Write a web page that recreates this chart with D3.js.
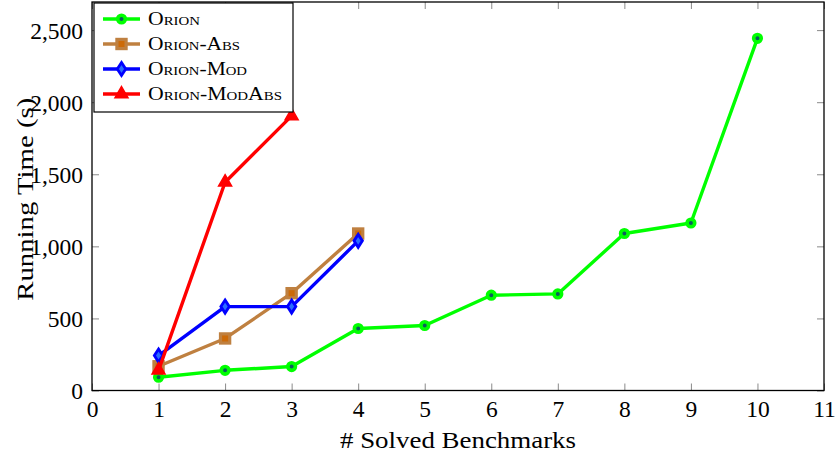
<!DOCTYPE html>
<html>
<head>
<meta charset="utf-8">
<script src="https://cdn.jsdelivr.net/npm/d3@7"></script>
<style>
  html, body { margin: 0; padding: 0; background: #fff; }
  svg { display: block; }
  text { font-family: "Liberation Serif", "Times New Roman", serif; fill: #000; }
</style>
</head>
<body>
<svg id="chart" width="838" height="458"></svg>
<script>
// Running time per number of solved benchmarks, one series per tool variant
const orionSolved = [1, 2, 3, 4, 5, 6, 7, 8, 9, 10];
const orionTime = [92, 140, 166, 430, 451, 661, 670, 1089, 1162, 2443];

const orionAbsSolved = [1, 2, 3, 4];
const orionAbsTime = [168, 361, 675, 1089];

const orionModSolved = [1, 2, 3, 4];
const orionModTime = [242, 582, 582, 1038];

const orionModAbsSolved = [1, 2, 3];
const orionModAbsTime = [140, 1445, 1905];

const xTicks = [0, 1, 2, 3, 4, 5, 6, 7, 8, 9, 10, 11];
const yTicks = [0, 500, 1000, 1500, 2000, 2500];

const seriesNames = ["Orion", "Orion-Abs", "Orion-Mod", "Orion-ModAbs"];

const series = [
  { name: seriesNames[0], xs: orionSolved, ys: orionTime, color: "#00ff00", mark: "circle", w: 52 },
  { name: seriesNames[1], xs: orionAbsSolved, ys: orionAbsTime, color: "#bf8040", mark: "square", w: 92 },
  { name: seriesNames[2], xs: orionModSolved, ys: orionModTime, color: "#0000ff", mark: "diamond", w: 99 },
  { name: seriesNames[3], xs: orionModAbsSolved, ys: orionModAbsTime, color: "#ff0000", mark: "triangle", w: 134 }
];

const svg = d3.select("#chart");
const plot = { left: 92, right: 824, top: 2, bottom: 390.5 };

const x = d3.scaleLinear().domain([0, 11]).range([plot.left, plot.right]);
const y = d3.scaleLinear().domain([0, 2695]).range([plot.bottom, plot.top]);

const tickLen = 7;
const tickColor = "#8a8a8a";
const fmt = d3.format(",");

// Inward ticks on all four sides
const bottomAxis = d3.axisBottom(x).tickValues(xTicks).tickSize(-tickLen).tickPadding(10).tickFormat(d3.format("d"));
const topAxis = d3.axisTop(x).tickValues(xTicks).tickSize(-tickLen).tickFormat("");
const leftAxis = d3.axisLeft(y).tickValues(yTicks).tickSize(-tickLen).tickPadding(9).tickFormat(fmt);
const rightAxis = d3.axisRight(y).tickValues(yTicks).tickSize(-tickLen).tickFormat("");

function styleAxis(g) {
  g.select(".domain").remove();
  g.selectAll(".tick line").attr("stroke", tickColor).attr("stroke-width", 1);
  g.selectAll(".tick text")
    .attr("font-family", "Liberation Serif, serif")
    .attr("font-size", 23.5)
    .attr("fill", "#000");
}

svg.append("g").attr("transform", `translate(0,${plot.bottom})`).call(bottomAxis).call(styleAxis)
  .selectAll(".tick text").attr("dy", "0.71em");
svg.append("g").attr("transform", `translate(0,${plot.top})`).call(topAxis).call(styleAxis);
svg.append("g").attr("transform", `translate(${plot.left},0)`).call(leftAxis).call(styleAxis)
  .selectAll(".tick text").attr("dy", "0.35em");
svg.append("g").attr("transform", `translate(${plot.right},0)`).call(rightAxis).call(styleAxis);

// Series lines and markers
const line = d3.line().x(d => x(d[0])).y(d => y(d[1]));

function drawMarker(g, mark, color, cx, cy) {
  if (mark === "circle") {
    g.append("circle").attr("cx", cx).attr("cy", cy).attr("r", 3.8)
      .attr("fill", "#0b5e5e").attr("stroke", color).attr("stroke-width", 3.6);
  } else if (mark === "square") {
    g.append("rect").attr("x", cx - 4.6).attr("y", cy - 4.6).attr("width", 9.2).attr("height", 9.2)
      .attr("fill", "#cc6a08").attr("stroke", color).attr("stroke-width", 3.2);
  } else if (mark === "diamond") {
    g.append("path")
      .attr("d", `M${cx},${cy - 6.5}L${cx + 4.2},${cy}L${cx},${cy + 6.5}L${cx - 4.2},${cy}Z`)
      .attr("fill", "#2a6cff").attr("stroke", color).attr("stroke-width", 2.8).attr("stroke-linejoin", "miter");
  } else if (mark === "triangle") {
    const r = 7.5;
    g.append("path")
      .attr("d", `M${cx},${cy - r}L${cx + 0.866 * r},${cy + 0.5 * r}L${cx - 0.866 * r},${cy + 0.5 * r}Z`)
      .attr("fill", color).attr("stroke", color).attr("stroke-width", 1.5);
  }
}

series.forEach(s => {
  const pts = s.xs.map((v, i) => [v, s.ys[i]]);
  const g = svg.append("g");
  g.append("path").datum(pts).attr("d", line)
    .attr("fill", "none").attr("stroke", s.color).attr("stroke-width", 3.4)
    .attr("stroke-linejoin", "round");
  pts.forEach(p => drawMarker(g, s.mark, s.color, x(p[0]), y(p[1])));
});

// Plot frame
svg.append("rect")
  .attr("x", plot.left).attr("y", plot.top)
  .attr("width", plot.right - plot.left).attr("height", plot.bottom - plot.top)
  .attr("fill", "none").attr("stroke", "#000").attr("stroke-width", 1.3);

// Legend
const legend = svg.append("g");
legend.append("rect")
  .attr("x", 94).attr("y", 3).attr("width", 199).attr("height", 109)
  .attr("fill", "#fff").attr("stroke", "#000").attr("stroke-width", 1.2);

const rowY = d3.scalePoint().domain(seriesNames).range([19, 94]);
series.forEach(s => {
  const cy = rowY(s.name);
  const g = legend.append("g");
  g.append("line").attr("x1", 103).attr("x2", 140).attr("y1", cy).attr("y2", cy)
    .attr("stroke", s.color).attr("stroke-width", 3.4);
  drawMarker(g, s.mark, s.color, 121.5, cy);
  g.append("text").attr("x", 148).attr("y", cy + 5.5)
    .attr("font-size", 19).style("font-variant", "small-caps")
    .attr("textLength", s.w).attr("lengthAdjust", "spacingAndGlyphs")
    .text(s.name);
});

// Axis titles
svg.append("text")
  .attr("x", (plot.left + plot.right) / 2).attr("y", 448)
  .attr("text-anchor", "middle").attr("font-size", 23.5)
  .attr("textLength", 236).attr("lengthAdjust", "spacingAndGlyphs")
  .text("# Solved Benchmarks");

svg.append("text")
  .attr("transform", `translate(33,${(plot.top + plot.bottom) / 2 + 3}) rotate(-90)`)
  .attr("text-anchor", "middle").attr("font-size", 23.5)
  .attr("textLength", 203).attr("lengthAdjust", "spacingAndGlyphs")
  .text("Running Time (s)");
</script>
</body>
</html>
